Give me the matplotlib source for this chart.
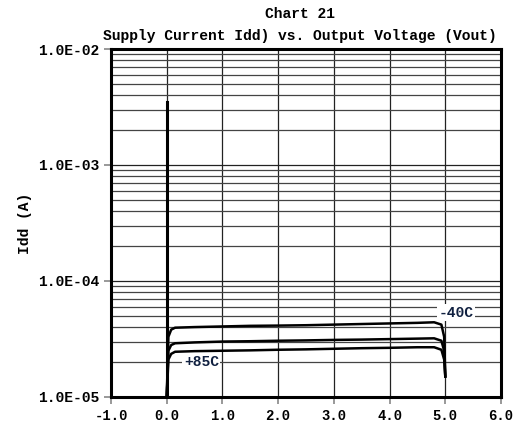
import numpy as np
import matplotlib.pyplot as plt
from matplotlib.ticker import FixedLocator, LogLocator, NullFormatter

vout = [0.0, 0.03, 0.08, 0.15, 0.5, 1.0, 1.5, 2.0, 2.5, 3.0, 3.5, 4.0, 4.5, 4.8, 4.93, 4.98, 5.0]
idd_m40 = [1.0e-5, 3.3e-5, 3.8e-5, 3.95e-5, 4.0e-5, 4.05e-5, 4.1e-5, 4.12e-5, 4.15e-5, 4.2e-5,
           4.25e-5, 4.3e-5, 4.35e-5, 4.4e-5, 4.2e-5, 3.3e-5, 1.5e-5]
idd_25 = [1.0e-5, 2.5e-5, 2.8e-5, 2.9e-5, 2.95e-5, 3.0e-5, 3.02e-5, 3.05e-5, 3.07e-5, 3.1e-5,
          3.12e-5, 3.15e-5, 3.18e-5, 3.2e-5, 3.05e-5, 2.5e-5, 1.5e-5]
idd_85 = [1.0e-5, 2.1e-5, 2.35e-5, 2.45e-5, 2.48e-5, 2.5e-5, 2.52e-5, 2.55e-5, 2.57e-5, 2.6e-5,
          2.63e-5, 2.65e-5, 2.68e-5, 2.68e-5, 2.55e-5, 2.1e-5, 1.5e-5]
spike_v = [0.0, 0.0]
spike_i = [1.0e-5, 3.5e-3]

xticks = [-1, 0, 1, 2, 3, 4, 5, 6]
yticks = [1e-5, 1e-4, 1e-3, 1e-2]
ylabels = ['1.0E-05', '1.0E-04', '1.0E-03', '1.0E-02']

font = 'Liberation Mono'
fs = 10.5
fig = plt.figure(figsize=(5.13, 4.3), dpi=100)
ax = fig.add_axes([0.2164, 0.077, 0.7602, 0.809])

ax.plot(spike_v, spike_i, color='black', lw=2.2)
for y in [idd_m40, idd_25, idd_85]:
    ax.plot(vout, y, color='black', lw=1.8)

ax.set_yscale('log')
ax.set_xlim(-1, 6)
ax.set_ylim(1e-5, 1e-2)
ax.set_xticks(xticks)
ax.set_xticklabels(['%.1f' % v for v in xticks], fontfamily=font, fontweight='bold', fontsize=10)
ax.yaxis.set_major_locator(FixedLocator(yticks))
ax.set_yticklabels(ylabels, fontfamily=font, fontweight='bold', fontsize=fs)
ax.yaxis.set_minor_locator(LogLocator(base=10, subs=np.arange(2, 10)))
ax.yaxis.set_minor_formatter(NullFormatter())
ax.tick_params(axis='y', which='minor', length=0)
ax.tick_params(axis='both', which='major', length=5, color='#888888', width=1.2)

ax.grid(True, which='major', color='#222222', lw=0.9)
ax.grid(True, which='minor', axis='y', color='#444444', lw=0.9)
ax.set_axisbelow(True)
for s in ax.spines.values():
    s.set_linewidth(2.2)

ax.set_ylabel('Idd (A)', fontfamily=font, fontweight='bold', fontsize=fs, labelpad=4)
fig.text(0.585, 0.958, 'Chart 21', ha='center', fontfamily=font, fontweight='bold', fontsize=fs)
fig.text(0.585, 0.907, 'Supply Current Idd) vs. Output Voltage (Vout)', ha='center',
         fontfamily=font, fontweight='bold', fontsize=fs)

box = dict(facecolor='white', edgecolor='none', pad=1)
ax.text(5.19, 5.3e-5, '-40C', ha='center', va='center', fontfamily=font, fontweight='bold',
        fontsize=fs, color='#102040', bbox=box)
ax.text(0.62, 2.0e-5, '+85C', ha='center', va='center', fontfamily=font, fontweight='bold',
        fontsize=fs, color='#102040', bbox=box)

fig.savefig('out.png', dpi=100)
